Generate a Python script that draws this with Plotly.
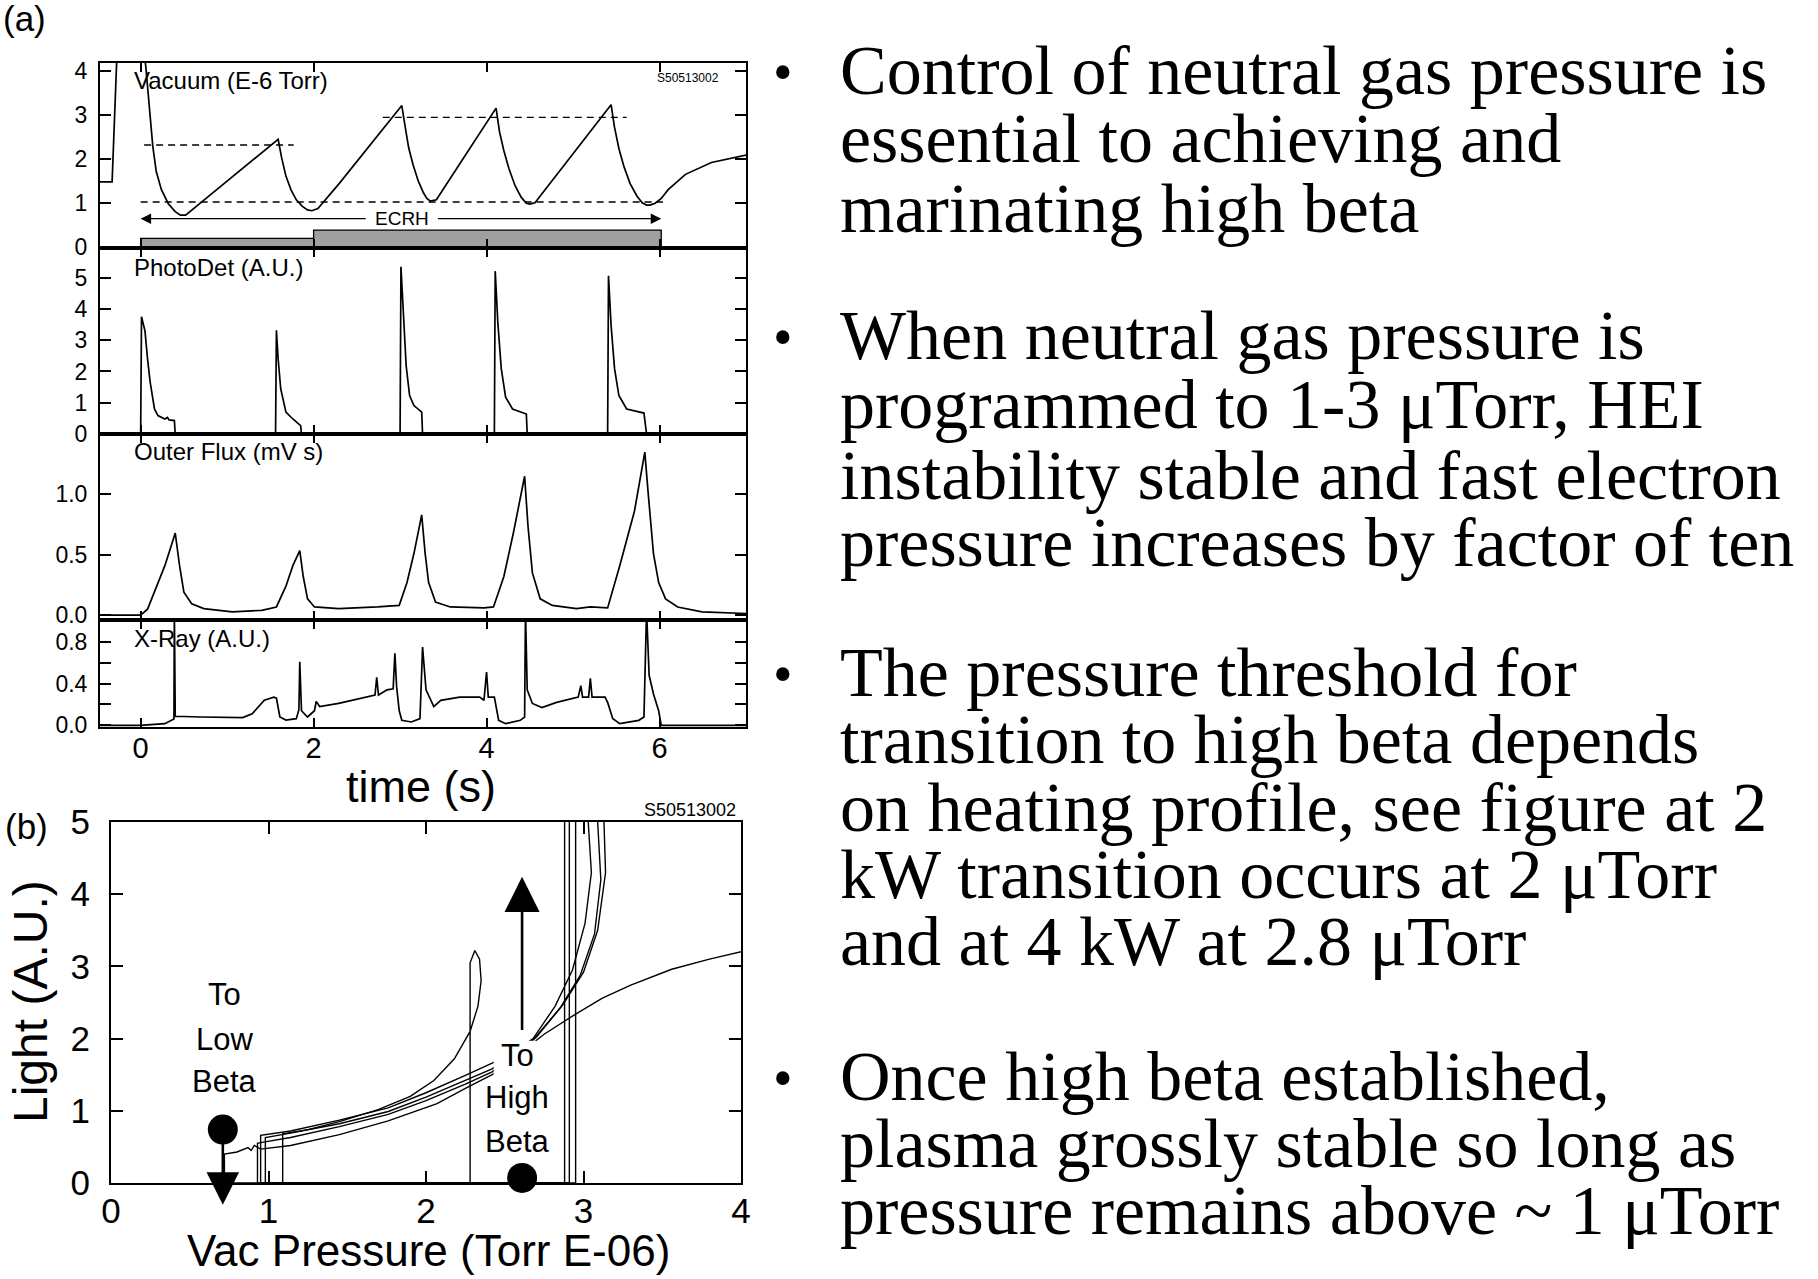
import plotly.graph_objects as go

W, H = 1818, 1279
SANS = "Liberation Sans, Arial, Helvetica, sans-serif"
SERIF = "Liberation Serif, Times New Roman, serif"

# ---------------- (a) time histories of shot S50513002 ----------------
time_ticks = [0, 2, 4, 6]

# neutral gas pressure (E-6 Torr)
vac_t = [-0.47, -0.33, -0.27, 0.03, 0.06, 0.10, 0.14, 0.18, 0.24, 0.32, 0.40, 0.46, 0.52, 0.70, 1.00, 1.30, 1.59,
         1.63, 1.68, 1.74, 1.80, 1.87, 1.93, 1.98, 2.05, 2.30, 2.60, 2.85, 3.02,
         3.06, 3.10, 3.15, 3.21, 3.27, 3.31, 3.35, 3.42, 3.70, 3.95, 4.11,
         4.15, 4.20, 4.26, 4.33, 4.40, 4.46, 4.50, 4.56, 4.80, 5.10, 5.44,
         5.48, 5.53, 5.59, 5.66, 5.74, 5.80, 5.85, 5.89, 5.95, 6.02, 6.10, 6.30, 6.60, 7.00]
vac_p = [1.48, 1.48, 4.60, 4.60, 4.10, 3.10, 2.30, 1.72, 1.30, 0.98, 0.80, 0.72, 0.72, 1.01, 1.50, 1.98, 2.45,
         2.03, 1.61, 1.29, 1.07, 0.92, 0.84, 0.82, 0.87, 1.45, 2.18, 2.78, 3.22,
         2.72, 2.25, 1.87, 1.50, 1.23, 1.10, 1.04, 1.07, 1.92, 2.68, 3.16,
         2.62, 2.19, 1.77, 1.39, 1.13, 0.99, 0.97, 1.00, 1.61, 2.37, 3.24,
         2.72, 2.24, 1.82, 1.44, 1.15, 1.00, 0.95, 0.95, 0.99, 1.10, 1.30, 1.65, 1.92, 2.09]

# programmed pressure limits
setpoint_low_t, setpoint_low = [0.00, 6.04], [1.02, 1.02]
setpoint_hi1_t, setpoint_hi1 = [0.04, 1.77], [2.32, 2.32]
setpoint_hi2_t, setpoint_hi2 = [2.80, 5.62], [2.95, 2.95]

# ECRH power trace (shaded) and heating window
ecrh_t = [0.00, 0.00, 0.50, 1.00, 1.40, 1.60, 2.00, 2.00, 2.60, 3.20, 3.80, 4.40, 5.00, 5.60, 6.02, 6.02]
ecrh_p = [0.00, 0.19, 0.19, 0.19, 0.20, 0.19, 0.19, 0.38, 0.38, 0.39, 0.38, 0.39, 0.38, 0.39, 0.38, 0.00]
ecrh_window = [0.00, 6.02]
ecrh_label_t, ecrh_level = 3.02, 0.64

# photodetector light (A.U.)
photo_t = [-0.47, 0.00, 0.01, 0.05, 0.08, 0.11, 0.16, 0.20, 0.28, 0.31, 0.33, 0.39, 0.40,
           1.56, 1.57, 1.59, 1.62, 1.68, 1.76, 1.85, 1.86,
           3.00, 3.01, 3.04, 3.07, 3.11, 3.16, 3.25, 3.26,
           4.09, 4.10, 4.13, 4.17, 4.22, 4.30, 4.46, 4.47,
           5.40, 5.41, 5.44, 5.48, 5.53, 5.62, 5.82, 5.85, 7.00]
photo_v = [0.00, 0.00, 3.75, 3.30, 2.40, 1.66, 0.80, 0.59, 0.48, 0.53, 0.45, 0.43, 0.00,
           0.00, 3.32, 2.40, 1.44, 0.70, 0.48, 0.27, 0.00,
           0.00, 5.35, 3.80, 2.19, 1.23, 0.91, 0.70, 0.00,
           0.00, 5.21, 3.58, 2.09, 1.18, 0.80, 0.64, 0.00,
           0.00, 5.06, 3.48, 2.09, 1.23, 0.80, 0.67, 0.00, 0.00]

# outer diamagnetic flux (mV s)
flux_t = [-0.47, 0.00, 0.08, 0.17, 0.28, 0.36, 0.40, 0.45, 0.50, 0.59, 0.73, 1.06, 1.40, 1.57, 1.68, 1.76, 1.84,
          1.88, 1.93, 2.01, 2.29, 2.74, 2.99, 3.08, 3.16, 3.25, 3.29, 3.33, 3.41, 3.58, 3.97, 4.08, 4.20, 4.31,
          4.44, 4.48, 4.53, 4.62, 4.76, 5.04, 5.20, 5.40, 5.54, 5.71, 5.83, 5.87, 5.93, 5.99, 6.07, 6.21, 6.49, 7.00]
flux_v = [0.00, 0.00, 0.05, 0.22, 0.41, 0.59, 0.68, 0.41, 0.19, 0.095, 0.054, 0.027, 0.04, 0.068, 0.24, 0.41, 0.535,
          0.32, 0.135, 0.068, 0.054, 0.068, 0.081, 0.27, 0.51, 0.83, 0.51, 0.27, 0.108, 0.068, 0.06, 0.068, 0.32, 0.68,
          1.15, 0.73, 0.35, 0.135, 0.081, 0.054, 0.068, 0.06, 0.41, 0.86, 1.35, 1.00, 0.51, 0.27, 0.135, 0.068, 0.027, 0.014]

# x-ray detector (A.U.)
xray_t = [-0.47, 0.00, 0.28, 0.36, 0.385, 0.39, 0.40, 0.70, 1.18, 1.29, 1.43, 1.54, 1.57, 1.61, 1.68, 1.80, 1.83,
          1.84, 1.86, 1.93, 2.01, 2.03, 2.07, 2.29, 2.57, 2.71, 2.73, 2.75, 2.85, 2.92, 2.94, 2.96, 2.99, 3.02,
          3.13, 3.23, 3.26, 3.30, 3.39, 3.47, 3.69, 3.92, 3.97, 4.00, 4.02, 4.09, 4.14, 4.22, 4.39, 4.44, 4.45,
          4.47, 4.53, 4.64, 4.81, 5.06, 5.09, 5.11, 5.18, 5.20, 5.22, 5.37, 5.40, 5.46, 5.54, 5.76, 5.82, 5.85,
          5.88, 5.93, 5.99, 6.02, 7.00]
xray_v = [0.00, 0.00, 0.016, 0.05, 0.06, 1.10, 0.087, 0.08, 0.074, 0.11, 0.24, 0.27, 0.26, 0.08, 0.05, 0.064, 0.15,
          0.61, 0.14, 0.08, 0.14, 0.23, 0.18, 0.21, 0.26, 0.29, 0.46, 0.29, 0.34, 0.35, 0.69, 0.37, 0.14, 0.048,
          0.032, 0.064, 0.75, 0.34, 0.18, 0.24, 0.27, 0.27, 0.24, 0.51, 0.27, 0.27, 0.048, 0.016, 0.048, 0.08, 1.10,
          0.34, 0.21, 0.17, 0.22, 0.27, 0.38, 0.27, 0.27, 0.45, 0.27, 0.27, 0.22, 0.064, 0.016, 0.048, 0.08, 1.10,
          0.48, 0.30, 0.14, 0.00, 0.00]

# ---------------- (b) light vs. vacuum pressure, one loop per ECRH cycle ----------------
cycA_p = [4.30, 4.00, 3.80, 3.56, 3.30, 3.12, 2.95, 2.75, 2.60, 2.42, 2.25, 2.07, 1.76, 1.45, 1.14, 0.95, 0.91, 0.89, 0.87, 0.80, 0.72, 0.72]
cycA_l = [3.36, 3.21, 3.10, 2.96, 2.74, 2.56, 2.34, 2.06, 1.80, 1.50, 1.31, 1.10, 0.86, 0.67, 0.52, 0.47, 0.52, 0.45, 0.49, 0.43, 0.40, 0.00]
cycB_p = [0.72, 2.28, 2.28, 2.31, 2.34, 2.35, 2.33, 2.28, 2.18, 2.05, 1.90, 1.70, 1.45, 1.25, 1.09, 1.09]
cycB_l = [0.00, 0.00, 3.05, 3.22, 3.10, 2.80, 2.45, 2.10, 1.72, 1.42, 1.20, 1.02, 0.85, 0.74, 0.68, 0.00]
cycC_p = [1.09, 2.88, 2.88, 2.96, 3.03, 3.05, 3.01, 2.93, 2.82, 2.68, 2.55, 2.42, 2.25, 2.00, 1.76, 1.45, 1.14, 0.95, 0.95]
cycC_l = [0.00, 0.00, 5.40, 5.60, 5.00, 4.30, 3.60, 2.95, 2.45, 2.00, 1.80, 1.66, 1.49, 1.25, 1.04, 0.87, 0.72, 0.66, 0.00]
cycD_p = [0.95, 2.91, 2.91, 3.00, 3.09, 3.11, 3.07, 2.98, 2.85, 2.68, 2.42, 2.25, 2.00, 1.76, 1.45, 1.14, 0.98, 0.98]
cycD_l = [0.00, 0.00, 5.40, 5.60, 5.00, 4.20, 3.45, 2.88, 2.42, 1.98, 1.58, 1.42, 1.19, 0.99, 0.82, 0.69, 0.63, 0.00]
cycE_p = [0.98, 2.95, 2.95, 3.05, 3.13, 3.14, 3.09, 3.00, 2.87, 2.70, 2.42, 2.25, 2.00, 1.76, 1.45, 1.14, 0.95, 0.93, 0.93, 2.00]
cycE_l = [0.00, 0.00, 5.40, 5.70, 5.00, 4.30, 3.50, 2.92, 2.47, 2.02, 1.54, 1.37, 1.14, 0.95, 0.78, 0.63, 0.56, 0.55, 0.00, 0.00]

# operating points marked on (b): (pressure, light)
low_beta_pt, low_beta_tip = (0.71, 0.74), (0.71, -0.30)
high_beta_pt = (2.61, 0.07)
high_beta_tail, high_beta_tip = (2.61, 2.10), (2.61, 4.24)
low_beta_words, low_beta_x, low_beta_y = ["To", "Low", "Beta"], 0.72, [2.61, 1.99, 1.40]
high_beta_words, high_beta_x, high_beta_y = ["To", "High", "Beta"], 2.58, [1.77, 1.18, 0.58]

# ---------------- slide text ----------------
bullets = [
    ["Control of neutral gas pressure is",
     "essential to achieving and",
     "marinating high beta"],
    ["When neutral gas pressure is",
     "programmed to 1-3 \u03bcTorr, HEI",
     "instability stable and fast electron",
     "pressure increases by factor of ten"],
    ["The pressure threshold for",
     "transition to high beta depends",
     "on heating profile, see figure at 2",
     "kW transition occurs at 2 \u03bcTorr",
     "and at 4 kW at 2.8 \u03bcTorr"],
    ["Once high beta established,",
     "plasma grossly stable so long as",
     "pressure remains above ~ 1 \u03bcTorr"],
]
line_rows = [[70, 139, 209], [335, 405, 475, 542], [672, 739, 807, 874, 942], [1076, 1143, 1210]]


def pap(x, y):
    """pixel position -> paper coordinates"""
    return x / W, 1 - y / H


def ydom(top, bottom):
    return [1 - bottom / H, 1 - top / H]


fig = go.Figure()
black = dict(color="black", width=1.7)

# (a) panel 1
fig.add_trace(go.Scatter(x=ecrh_t, y=ecrh_p, fill="toself", fillcolor="#a0a0a0",
                         line=dict(color="black", width=1.3), mode="lines", xaxis="x", yaxis="y"))
for tt, vv in [(setpoint_low_t, setpoint_low), (setpoint_hi1_t, setpoint_hi1), (setpoint_hi2_t, setpoint_hi2)]:
    fig.add_trace(go.Scatter(x=tt, y=vv, mode="lines", line=dict(color="black", width=1.4, dash="7px,5px"),
                             xaxis="x", yaxis="y"))
fig.add_trace(go.Scatter(x=vac_t, y=vac_p, mode="lines", line=black, xaxis="x", yaxis="y"))
# (a) panels 2-4
fig.add_trace(go.Scatter(x=photo_t, y=photo_v, mode="lines", line=black, xaxis="x2", yaxis="y2"))
fig.add_trace(go.Scatter(x=flux_t, y=flux_v, mode="lines", line=black, xaxis="x3", yaxis="y3"))
fig.add_trace(go.Scatter(x=xray_t, y=xray_v, mode="lines", line=black, xaxis="x4", yaxis="y4"))

# (b)
for pp, ll in [(cycA_p, cycA_l), (cycB_p, cycB_l), (cycC_p, cycC_l), (cycD_p, cycD_l), (cycE_p, cycE_l)]:
    fig.add_trace(go.Scatter(x=pp, y=ll, mode="lines", line=dict(color="black", width=1.4),
                             xaxis="x5", yaxis="y5"))
fig.add_trace(go.Scatter(x=[low_beta_pt[0], high_beta_pt[0]], y=[low_beta_pt[1], high_beta_pt[1]],
                         mode="markers", cliponaxis=False,
                         marker=dict(symbol="circle", size=30, color="black"), xaxis="x5", yaxis="y5"))

frame = dict(showline=True, linewidth=2, linecolor="black", mirror="ticks", ticks="inside", ticklen=11,
             tickwidth=1.5, tickcolor="black", showgrid=False, zeroline=False, automargin=False,
             tickfont=dict(family=SANS, size=23, color="black"))
xa_dom = [100 / W, 746 / W]
rows = [(63, 248), (248, 434), (434, 620), (620, 727)]
yranges = [[-0.03, 4.19], [0.0, 5.95], [-0.04, 1.5], [-0.016, 1.01]]
yticks = [([0, 1, 2, 3, 4], ["0", "1", "2", "3", "4"]),
          ([0, 1, 2, 3, 4, 5], ["0", "1", "2", "3", "4", "5"]),
          ([0, 0.5, 1.0], ["0.0", "0.5", "1.0"]),
          ([0, 0.2, 0.4, 0.6, 0.8], ["0.0", "", "0.4", "", "0.8"])]

layout_axes = {}
for i, ((top, bot), yr, (tv, tt)) in enumerate(zip(rows, yranges, yticks), start=1):
    sfx = "" if i == 1 else str(i)
    xa = dict(frame, domain=xa_dom, anchor="y" + sfx, range=[-0.47, 7.0], tickvals=time_ticks,
              showticklabels=(i == 4), ticklen=9)
    if i == 4:
        xa.update(tickfont=dict(family=SANS, size=29, color="black"), ticklabelstandoff=-6)
    ya = dict(frame, domain=ydom(top, bot), anchor="x" + sfx, range=yr, tickvals=tv, ticktext=tt,
              ticklabelstandoff=6)
    layout_axes["xaxis" + sfx] = xa
    layout_axes["yaxis" + sfx] = ya

layout_axes["xaxis5"] = dict(frame, domain=[111 / W, 741 / W], anchor="y5", range=[0, 4],
                             tickvals=[0, 1, 2, 3, 4], ticklen=12, ticklabelstandoff=-4,
                             tickfont=dict(family=SANS, size=35, color="black"))
layout_axes["yaxis5"] = dict(frame, domain=ydom(822, 1183), anchor="x5", range=[0, 5],
                             tickvals=[0, 1, 2, 3, 4, 5], ticklen=12, ticklabelstandoff=12,
                             tickfont=dict(family=SANS, size=35, color="black"))

ann = []


def text_px(x, y, s, size, anchor="center", family=SANS, **kw):
    px_, py_ = pap(x, y)
    ann.append(dict(x=px_, y=py_, xref="paper", yref="paper", text=s, showarrow=False,
                    xanchor=anchor, yanchor="middle", font=dict(family=family, size=size, color="black"), **kw))


text_px(24, 18, "(a)", 35)
text_px(26, 826, "(b)", 35)
text_px(132, 81, "Vacuum (E-6 Torr)", 24, "left")
text_px(132, 268, "PhotoDet (A.U.)", 24, "left")
text_px(132, 451, "Outer Flux (mV s)", 24, "left")
text_px(132, 639, "X-Ray (A.U.)", 24, "left")
text_px(688, 78, "S50513002", 12)
text_px(690, 810, "S50513002", 18)
text_px(421, 786, "time (s)", 45)
text_px(428, 1250, "Vac Pressure (Torr E-06)", 44)
text_px(30, 1002, "Light (A.U.)", 48, textangle=-90)

# ECRH window arrow
for tip, tail in [(ecrh_window[0], 2.62), (ecrh_window[1], 3.42)]:
    ann.append(dict(x=tip, y=ecrh_level, ax=tail, ay=ecrh_level, xref="x", yref="y", axref="x", ayref="y",
                    text="", showarrow=True, arrowhead=2, arrowsize=1.5, arrowwidth=1.4, arrowcolor="black"))
ann.append(dict(x=ecrh_label_t, y=ecrh_level, xref="x", yref="y", text="ECRH", showarrow=False,
                font=dict(family=SANS, size=19, color="black")))

# regime arrows and labels on (b)
ann.append(dict(x=low_beta_tip[0], y=low_beta_tip[1], ax=low_beta_pt[0], ay=low_beta_pt[1],
                xref="x5", yref="y5", axref="x5", ayref="y5", text="", showarrow=True,
                arrowhead=2, arrowsize=2.5, arrowwidth=2.6, arrowcolor="black"))
ann.append(dict(x=high_beta_tip[0], y=high_beta_tip[1], ax=high_beta_tail[0], ay=high_beta_tail[1],
                xref="x5", yref="y5", axref="x5", ayref="y5", text="", showarrow=True,
                arrowhead=2, arrowsize=2.7, arrowwidth=2.6, arrowcolor="black"))
for w, yy in zip(low_beta_words, low_beta_y):
    ann.append(dict(x=low_beta_x, y=yy, xref="x5", yref="y5", text=w, showarrow=False,
                    font=dict(family=SANS, size=31, color="black")))
for w, yy in zip(high_beta_words, high_beta_y):
    ann.append(dict(x=high_beta_x, y=yy, xref="x5", yref="y5", text=w, showarrow=False,
                    font=dict(family=SANS, size=31, color="black")))

# bullet text
for lines, ys in zip(bullets, line_rows):
    text_px(783, ys[0] + 2, "\u2022", 56, family=SERIF)
    for s, y in zip(lines, ys):
        text_px(838, y, s, 70, "left", family=SERIF)

# blank the curves behind the "To High Beta" label
shapes = [dict(type="rect", xref="x5", yref="y5", x0=2.43, x1=2.70, y0=0.32, y1=1.97,
               fillcolor="white", line=dict(width=0), layer="above")]

fig.update_layout(width=W, height=H, autosize=False,
                  margin=dict(l=0, r=0, t=0, b=0, pad=0, autoexpand=False), showlegend=False,
                  paper_bgcolor="white", plot_bgcolor="white", annotations=ann, shapes=shapes,
                  **layout_axes)

page_fix = ("document.body.style.margin='0';document.body.style.overflow='hidden';"
            "var gd=document.getElementById('{plot_id}');gd.style.position='absolute';"
            "gd.style.left='0px';gd.style.top='0px';")
fig.write_html("out.html", post_script=page_fix, config=dict(responsive=False))
